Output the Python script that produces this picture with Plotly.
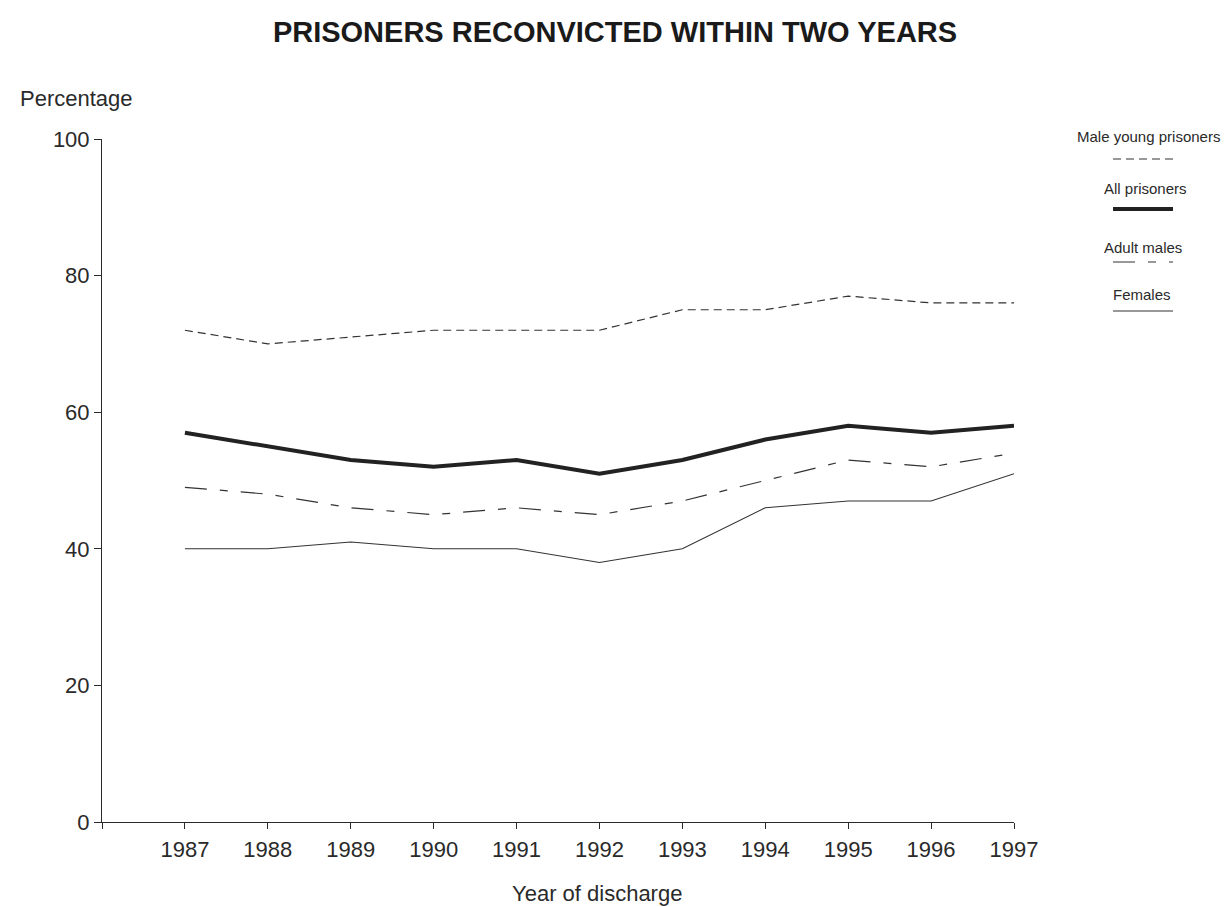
import plotly.graph_objects as go

years = [1987, 1988, 1989, 1990, 1991, 1992, 1993, 1994, 1995, 1996, 1997]
male_young = [72, 70, 71, 72, 72, 72, 75, 75, 77, 76, 76]
all_prisoners = [57, 55, 53, 52, 53, 51, 53, 56, 58, 57, 58]
adult_males = [49, 48, 46, 45, 46, 45, 47, 50, 53, 52, 54]
females = [40, 40, 41, 40, 40, 38, 40, 46, 47, 47, 51]

series_names = ["Male young prisoners", "All prisoners", "Adult males", "Females"]
y_ticks = [0, 20, 40, 60, 80, 100]
x_ticks = [1986] + years
x_ticktext = [""] + [str(y) for y in years]

FONT = "Liberation Sans, Arial, sans-serif"
INK = "#2a2a2a"

styles = [
    dict(width=1.2, dash="8px,5px", color="#333333"),
    dict(width=4, dash="solid", color="#222222"),
    dict(width=1.2, dash="22px,13px,8px,13px", color="#333333"),
    dict(width=1.1, dash="solid", color="#333333"),
]
data = [male_young, all_prisoners, adult_males, females]

fig = go.Figure()
for name, vals, st in zip(series_names, data, styles):
    fig.add_trace(go.Scatter(x=years, y=vals, mode="lines", name=name,
                             line=st, showlegend=False))

# plot area geometry (pixels) used to place the side key and labels
W, H = 1226, 907
L, R, T, B = 102, 212, 139, 85
pw, ph = W - L - R, H - T - B

def px(x):
    return (x - L) / pw

def py(y):
    return (H - B - y) / ph

# label, label centre x, label centre y, key line y
key = [
    ("Male young prisoners", 1148, 137, 159),
    ("All prisoners", 1145, 188, 209),
    ("Adult males", 1143, 247, 262),
    ("Females", 1142, 294, 311),
]
for (label, tx, ty, ly), st in zip(key, styles):
    fig.add_annotation(x=px(tx), y=py(ty), xref="paper", yref="paper",
                       text=label, showarrow=False, xanchor="center",
                       yanchor="middle",
                       font=dict(family=FONT, size=15, color=INK))
    fig.add_shape(type="line", xref="paper", yref="paper",
                  x0=px(1113), x1=px(1173), y0=py(ly), y1=py(ly),
                  line=st)

fig.add_annotation(x=px(18), y=py(98), xref="paper", yref="paper",
                   text="Percentage", showarrow=False, xanchor="left",
                   yanchor="middle", font=dict(family=FONT, size=22, color=INK))
fig.add_annotation(x=px(597), y=py(893), xref="paper", yref="paper",
                   text="Year of discharge", showarrow=False, xanchor="center",
                   yanchor="middle", font=dict(family=FONT, size=22, color=INK))

fig.update_layout(
    width=W, height=H,
    margin=dict(l=L, r=R, t=T, b=B),
    paper_bgcolor="white", plot_bgcolor="white",
    title=dict(text="<b>PRISONERS RECONVICTED WITHIN TWO YEARS</b>",
               x=615 / W, xanchor="center", y=1 - 32 / H, yanchor="middle",
               font=dict(family=FONT, size=29, color="#1a1a1a")),
    font=dict(family=FONT, color=INK),
    xaxis=dict(range=[1986, 1997], tickvals=x_ticks, ticktext=x_ticktext,
               ticks="outside", ticklen=6, tickcolor=INK, tickwidth=1,
               ticklabelstandoff=2,
               showline=True, linecolor=INK, linewidth=1, showgrid=False,
               zeroline=False, tickfont=dict(size=22, color=INK)),
    yaxis=dict(range=[0, 100], tickvals=y_ticks, ticks="outside", ticklen=7,
               tickcolor=INK, tickwidth=1, showline=True, linecolor=INK,
               linewidth=1, showgrid=False, zeroline=False,
               tickfont=dict(size=22, color=INK)),
)

fig.write_html("out.html")
